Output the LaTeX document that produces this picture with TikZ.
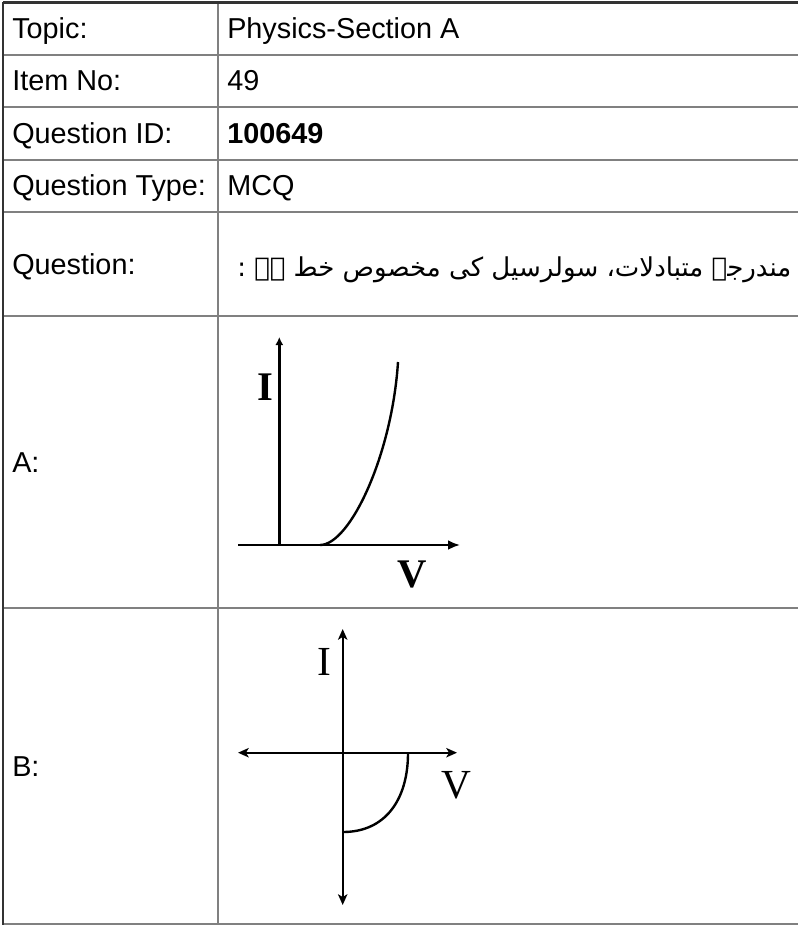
\documentclass[tikz,border=0pt]{standalone}
\usepackage{fontspec}
\setmainfont{Liberation Sans}
\newfontfamily\graphfont{Liberation Serif}
\newfontfamily\urdufont[Script=Arabic]{DejaVu Sans}
\TeXXeTstate=1
\usetikzlibrary{arrows.meta}
\definecolor{rulegray}{HTML}{808080}
\definecolor{edgedark}{HTML}{333333}
\begin{document}
\begin{tikzpicture}[x=0.75pt,y=-0.75pt,
  ruleline/.style={draw=rulegray, line width=1.5pt},
  edgeline/.style={draw=edgedark, line width=1.6pt},
  cell/.style={anchor=base west, inner sep=0pt, font=\fontsize{21.6}{26}\selectfont},
  axisA/.style={draw=black, line width=2.2pt},
  curveA/.style={draw=black, line width=1.8pt},
  axisB/.style={draw=black, line width=1.5pt},
  curveB/.style={draw=black, line width=1.8pt},
  lblA/.style={inner sep=0pt, font=\graphfont\bfseries\fontsize{30.5}{32}\selectfont},
  lblB/.style={inner sep=0pt, font=\graphfont\fontsize{31}{33}\selectfont},
  tipA/.style={-{Latex[length=9pt,width=7.5pt]}},
  tipAsmall/.style={-{Latex[length=6pt,width=6pt]}},
  tipB/.style={{Stealth[length=8pt,width=7pt,inset=2pt]}-{Stealth[length=8pt,width=7pt,inset=2pt]}}
]
\useasboundingbox (0,0) rectangle (798,925);
\fill[white] (0,0) rectangle (798,925);
% table rules
\foreach \yy in {54.5,107,159.5,212,316,608,924}
  \draw[ruleline] (3,\yy) -- (798,\yy);
\draw[ruleline] (218,2) -- (218,925);
\draw[edgeline] (3,2.5) -- (798,2.5);
\draw[edgeline] (3,2) -- (3,925);
% left column
\node[cell] (ltopic) at (12,38.25) {Topic:};
\node[cell] (litem) at (12,90.75) {Item No:};
\node[cell] (lqid) at (12,143.25) {Question ID:};
\node[cell] (lqtype) at (12,195.75) {Question Type:};
\node[cell] (lq) at (12,274) {Question:};
\node[cell] (la) at (12,472) {A:};
\node[cell] (lb) at (12,776) {B:};
% right column
\node[cell] (rtopic) at (227,38.25) {Physics-Section A};
\node[cell] (ritem) at (227,90.75) {49};
\node[cell] (rqid) at (227,143.25) {\bfseries 100649};
\node[cell] (rqtype) at (227,195.75) {MCQ};
\node[anchor=base west, inner sep=0pt, font=\urdufont\fontsize{19.5}{24}\selectfont] (rq) at (237,276)
  {\beginR مندرجہ متبادلات، سولرسیل کی مخصوص خط ہے :\endR};
% graph A
\coordinate (aO) at (279.3,545);
\coordinate (aTop) at (279.3,337);
\coordinate (aL) at (238,545);
\coordinate (aR) at (460,545);
\coordinate (aC0) at (320,545);
\coordinate (aC1) at (398,362);
\draw[axisA,tipA] (aL) -- (aR);
\draw[axisA,tipAsmall] (aO) -- (aTop);
\draw[curveA] (aC0) .. controls (350,545) and (392,455) .. (aC1);
\node[lblA] (aI) at (265,387) {I};
\node[lblA] (aV) at (412,574) {V};
% graph B
\coordinate (bTop) at (342.7,629);
\coordinate (bBot) at (342.7,905);
\coordinate (bL) at (238,752.7);
\coordinate (bR) at (457,752.7);
\coordinate (bC0) at (408,753);
\coordinate (bC1) at (343,832);
\draw[axisB,tipB] (bL) -- (bR);
\draw[axisB,tipB] (bBot) -- (bTop);
\draw[curveB] (bC0) .. controls (408,800) and (385,832) .. (bC1);
\node[lblB] (bI) at (324,662) {I};
\node[lblB] (bV) at (456,785) {V};
\end{tikzpicture}
\end{document}
